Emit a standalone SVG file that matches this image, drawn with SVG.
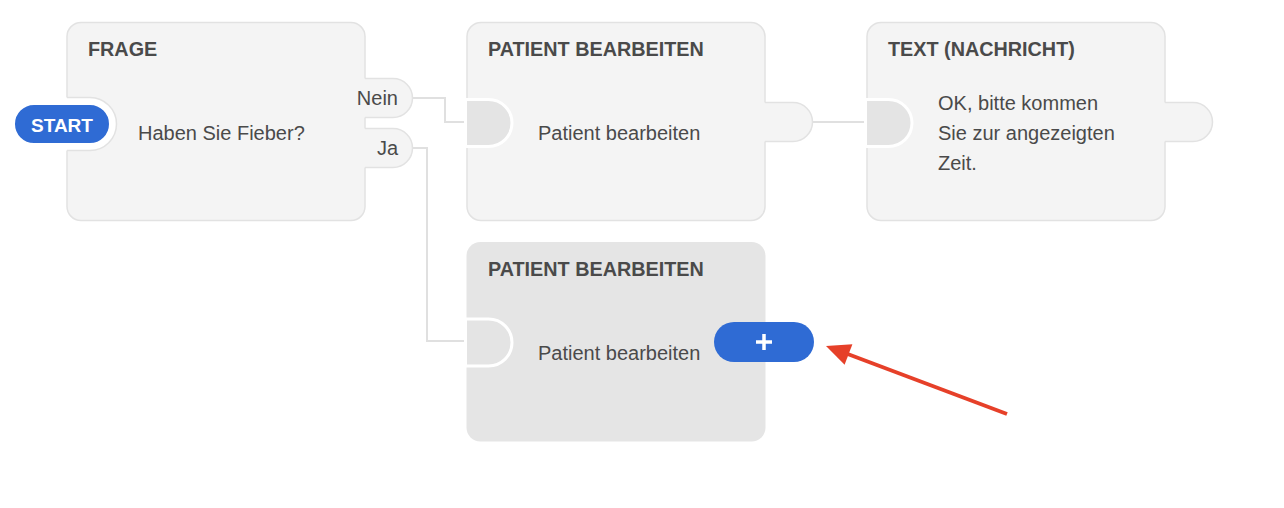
<svg xmlns="http://www.w3.org/2000/svg" width="1284" height="508" viewBox="0 0 1284 508">
<style>
.node{fill:#f4f4f4;stroke:#e2e2e2;stroke-width:1.5}
.port{fill:#f4f4f4;stroke:none}
.portline{fill:none;stroke:#e2e2e2;stroke-width:1.5}
.notch{fill:#e4e4e4;stroke:#fff;stroke-width:3}
.head{font-family:"Liberation Sans",Arial,sans-serif;font-weight:bold;font-size:19.8px;fill:#4a4a4a}
.body{font-family:"Liberation Sans",Arial,sans-serif;font-size:20px;fill:#4a4a4a}
.conn{fill:none;stroke:#e0e0e0;stroke-width:2}
.btn{fill:#2f6bd4}
</style>
<rect width="1284" height="508" fill="#fff"/>
<g id="connectors">
<path class="conn" d="M413,98 H445 V122 H467"/>
<path class="conn" d="M413,148 H427 V341 H467"/>
<path class="conn" d="M813,122 H867"/>
</g>
<g id="node-frage">
<rect class="node" x="67" y="22.5" width="298" height="198" rx="14"/>
<path class="port" d="M363,78.5 H393 A19.5,19.5 0 0 1 393,117.5 H363 Z"/>
<path class="portline" d="M365,78.5 H393 A19.5,19.5 0 0 1 393,117.5 H365"/>
<path class="port" d="M363,128.5 H393 A19.5,19.5 0 0 1 393,167.5 H363 Z"/>
<path class="portline" d="M365,128.5 H393 A19.5,19.5 0 0 1 393,167.5 H365"/>
<path d="M66,97.5 H90 A26.5,26.5 0 0 1 90,150.5 H66 Z" fill="#fff"/>
<path class="portline" d="M67,97.5 H90 A26.5,26.5 0 0 1 90,150.5 H67"/>
<text class="head" x="88" y="56">FRAGE</text>
<text class="body" x="138" y="140">Haben Sie Fieber?</text>
<text class="body" x="398" y="105" text-anchor="end">Nein</text>
<text class="body" x="398" y="155" text-anchor="end">Ja</text>
</g>
<g id="start">
<rect class="btn" x="13.5" y="103.5" width="97" height="41" rx="20.5" stroke="#fff" stroke-width="3"/>
<text x="62" y="131.5" text-anchor="middle" font-family="'Liberation Sans',Arial,sans-serif" font-weight="bold" font-size="19px" fill="#fff">START</text>
</g>
<g id="node-patient-1">
<rect class="node" x="467" y="22.5" width="298" height="198" rx="14"/>
<path class="port" d="M763,102.5 H793 A19.5,19.5 0 0 1 793,141.5 H763 Z"/>
<path class="portline" d="M765,102.5 H793 A19.5,19.5 0 0 1 793,141.5 H765"/>
<path class="notch" d="M465.5,99.5 H488.5 A23.5,23.5 0 0 1 488.5,146.5 H465.5 Z"/>
<text class="head" x="488" y="56">PATIENT BEARBEITEN</text>
<text class="body" x="538" y="140">Patient bearbeiten</text>
</g>
<g id="node-text">
<rect class="node" x="867" y="22.5" width="298" height="198" rx="14"/>
<path class="port" d="M1163,102.5 H1193 A19.5,19.5 0 0 1 1193,141.5 H1163 Z"/>
<path class="portline" d="M1165,102.5 H1193 A19.5,19.5 0 0 1 1193,141.5 H1165"/>
<path class="notch" d="M865.5,99.5 H888.5 A23.5,23.5 0 0 1 888.5,146.5 H865.5 Z"/>
<text class="head" x="888" y="56">TEXT (NACHRICHT)</text>
<text class="body" x="938" y="110">OK, bitte kommen</text>
<text class="body" x="938" y="140">Sie zur angezeigten</text>
<text class="body" x="938" y="169.5">Zeit.</text>
</g>
<g id="node-patient-2">
<rect x="466.5" y="242" width="299" height="199.5" rx="14" fill="#e5e5e5"/>
<path class="notch" d="M465.5,319 H488.5 A23.5,23.5 0 0 1 488.5,366 H465.5 Z" fill="#e5e5e5"/>
<text class="head" x="488" y="276">PATIENT BEARBEITEN</text>
<text class="body" x="538" y="360">Patient bearbeiten</text>
</g>
<g id="add-button">
<rect class="btn" x="714" y="322" width="100" height="40" rx="20"/>
<path d="M764,334 V350 M756,342 H772" stroke="#fff" stroke-width="3.5" fill="none"/>
</g>
<g id="annotation-arrow">
<line x1="1007" y1="414" x2="845" y2="353" stroke="#e64029" stroke-width="4"/>
<polygon points="826,346 852.4,344.2 844.6,364.8" fill="#e64029"/>
</g>
</svg>
